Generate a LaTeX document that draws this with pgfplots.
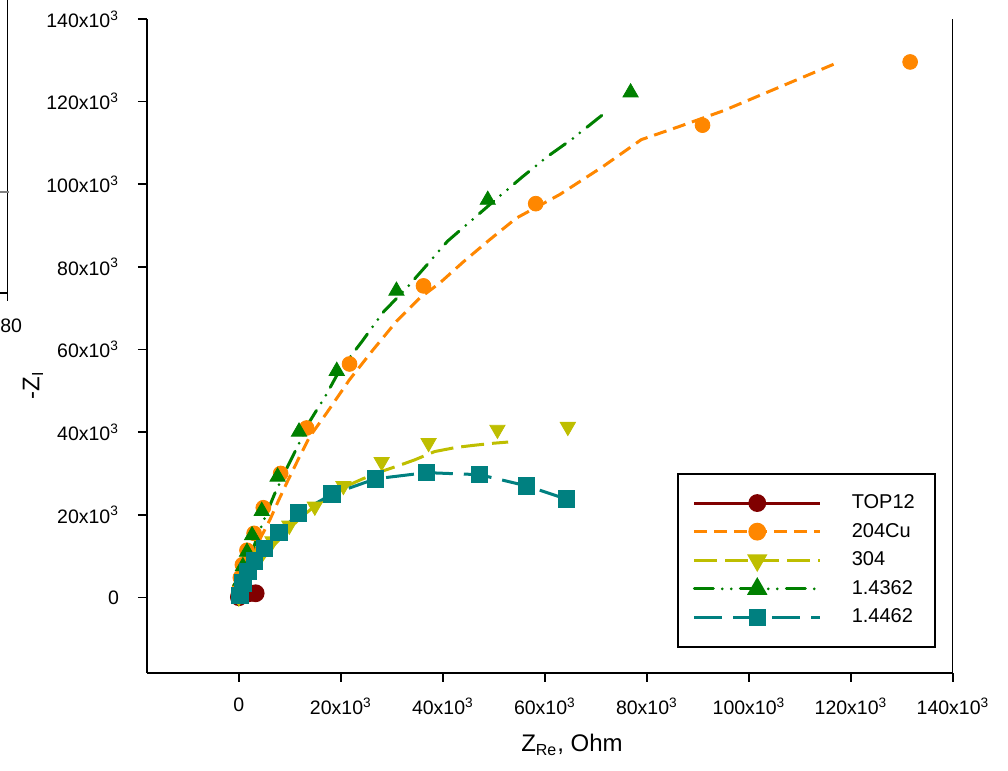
\documentclass[border=0pt]{standalone}
\usepackage{fontspec}
\setmainfont{Liberation Sans}
\usepackage{pgfplots}
\pgfplotsset{compat=1.18}

\definecolor{cTop}{RGB}{128,0,0}
\definecolor{cCu}{RGB}{255,135,0}
\definecolor{cAisi}{RGB}{190,190,0}
\definecolor{cDup}{RGB}{0,128,0}
\definecolor{cLdx}{RGB}{0,128,128}

\pgfplotsset{
  sTop/.style={cTop, line width=1.5pt, solid},
  sCu/.style={cCu, line width=1.5pt, dash pattern=on 6.5pt off 3.5pt},
  sAisi/.style={cAisi, line width=1.5pt, dash pattern=on 11.5pt off 4pt},
  sDup/.style={cDup, line width=1.5pt, line cap=round, dash pattern=on 9.5pt off 4.5pt on 0pt off 4.5pt on 0pt off 4.5pt},
  sLdx/.style={cLdx, line width=1.5pt, dash pattern=on 14pt off 5.5pt},
  mTop/.style={mark=*, mark size=3.7pt, mark options={solid, cTop, fill=cTop}},
  mCu/.style={mark=*, mark size=3.7pt, mark options={solid, cCu, fill=cCu}},
  mAisi/.style={mark=triangle*, mark size=4.4pt, mark options={solid, rotate=180, cAisi, fill=cAisi}},
  mDup/.style={mark=triangle*, mark size=4.4pt, mark options={solid, cDup, fill=cDup}},
  mLdx/.style={mark=square*, mark size=3.6pt, mark options={solid, cLdx, fill=cLdx}},
}

\begin{document}
\begin{tikzpicture}
\path[use as bounding box] (-73.5pt,-49pt) rectangle (430.5pt,336.5pt);

% edge of the neighbouring panel
\draw[line width=0.75pt] (-69.75pt,336.5pt) -- (-69.75pt,186pt);
\draw[line width=0.75pt] (-73.5pt,190pt) -- (-69.75pt,190pt);
\draw[line width=0.9pt, gray] (-73.5pt,240.5pt) -- (-69pt,240.5pt);
\node[anchor=west, inner sep=0pt, font=\fontsize{9.75}{11}\selectfont] at (-73.5pt,173.5pt) {80};

\begin{axis}[
  at={(0,0)}, anchor=south west,
  scale only axis, width=403pt, height=327pt,
  xmin=-18000, xmax=140000, ymin=-18300, ymax=140000,
  axis x line*=bottom, axis y line*=left,
  axis line style={line width=0.75pt},
  tick style={line width=0.75pt, black},
  tick align=outside, major tick length=4.5pt,
  scaled ticks=false,
  xtick={0,20000,40000,60000,80000,100000,120000,140000},
  ytick={0,20000,40000,60000,80000,100000,120000,140000},
  xticklabels={0,20x10\textsuperscript{3},40x10\textsuperscript{3},60x10\textsuperscript{3},80x10\textsuperscript{3},100x10\textsuperscript{3},120x10\textsuperscript{3},140x10\textsuperscript{3}},
  yticklabels={0,20x10\textsuperscript{3},40x10\textsuperscript{3},60x10\textsuperscript{3},80x10\textsuperscript{3},100x10\textsuperscript{3},120x10\textsuperscript{3},140x10\textsuperscript{3}},
  tick label style={font=\fontsize{9.75}{11}\selectfont},
  xticklabel style={yshift=-4.5pt},
  yticklabel style={xshift=-6pt},
  legend cell align=left,
  legend image code/.code={
    \draw[mark repeat=2, mark phase=2, #1] plot coordinates {(0pt,0pt) (31.5pt,0pt) (63pt,0pt)};
  },
  legend style={
    at={(0.6576,0.3058)}, anchor=north west,
    draw=black, line width=0.75pt, fill=white,
    inner xsep=7.5pt, inner ysep=7.5pt, row sep=0pt,
    font=\fontsize{10}{12}\selectfont,
    nodes={inner sep=0pt, minimum height=14.3pt},
    /tikz/every odd column/.append style={column sep=15pt},
  },
]
% legend entries
\addlegendimage{sTop, mTop}
\addlegendentry{\makebox[34pt][l]{TOP12}}
\addlegendimage{sCu, mCu}
\addlegendentry{\makebox[34pt][l]{204Cu}}
\addlegendimage{sAisi, mAisi}
\addlegendentry{\makebox[34pt][l]{304}}
\addlegendimage{sDup, mDup}
\addlegendentry{\makebox[34pt][l]{1.4362}}
\addlegendimage{sLdx, mLdx}
\addlegendentry{\makebox[34pt][l]{1.4462}}

% TOP12
\addplot[sTop, mTop, forget plot] table[x expr=\thisrow{re}*1000, y expr=\thisrow{im}*1000] {
re im
0.02 0.05
0.1 0.2
0.4 0.5
1.0 0.8
2.0 1.0
3.3 1.0
};

% 204Cu: fitted curve and measured points
\addplot[sCu, no markers, forget plot] table[x expr=\thisrow{re}*1000, y expr=\thisrow{im}*1000] {
re im
0 0
0.5 2
1.5 5.5
2.8 9.9
4.3 14.5
6.1 18.8
7.8 23.5
9.7 28.5
11.8 33.8
13.9 38.9
17.2 44.6
21.7 52.7
26.3 59.9
30.9 66.8
35.5 72.5
39.4 76.1
44.0 81.2
49.2 86.6
54.4 91.8
62.9 97.5
71.4 104.3
78.9 110.8
86.4 114.0
95.0 117.8
105.0 123.0
116.9 129.2
};
\addplot[only marks, mCu, forget plot] table[x expr=\thisrow{re}*1000, y expr=\thisrow{im}*1000] {
re im
131.6 129.6
90.9 114.3
58.2 95.3
36.2 75.4
21.7 56.5
13.3 41.0
8.2 30.0
4.8 21.7
3.0 15.5
1.6 11.4
0.7 7.9
0.3 4.8
0.1 2.2
0 0.6
};

% 304: fitted curve and measured points
\addplot[sAisi, no markers, forget plot] table[x expr=\thisrow{re}*1000, y expr=\thisrow{im}*1000] {
re im
0 0
1.0 2.5
2.5 5.5
4.5 9.0
7.0 12.8
9.5 16.0
12.0 19.2
14.8 22.0
17.8 24.4
20.5 26.6
24.3 28.7
27.5 30.3
30.9 31.7
34.5 33.3
38.4 35.3
42.6 36.3
46.0 36.8
49.8 37.3
52.8 37.6
};
\addplot[only marks, mAisi, forget plot] table[x expr=\thisrow{re}*1000, y expr=\thisrow{im}*1000] {
re im
64.5 41.3
50.7 40.6
37.2 37.4
28.0 32.8
20.5 27.0
14.9 22.0
9.9 17.4
6.6 13.6
4.4 10.2
2.7 7.3
1.4 4.6
0.5 2.0
0 0
};

% 1.4362: fitted curve and measured points
\addplot[sDup, no markers, forget plot] table[x expr=\thisrow{re}*1000, y expr=\thisrow{im}*1000] {
re im
0 0
0.3 2
1.0 5
2.0 9
3.3 13.5
5.0 19
7.0 25
9.5 31.5
11.7 37
13.9 42.6
17.2 49.2
19.1 53.5
21.7 58.0
24.3 62.2
28.2 68.9
32.9 74.9
36.4 79.8
40.9 86.2
49.5 95.4
55.6 101.8
60.5 106.7
65.4 111.0
71.9 117.4
};
\addplot[only marks, mDup, forget plot] table[x expr=\thisrow{re}*1000, y expr=\thisrow{im}*1000] {
re im
76.8 122.2
48.8 96.2
30.9 74.2
19.2 54.8
11.8 40.1
7.6 29.2
4.5 20.9
2.6 15.0
1.6 11.0
0.8 7.5
0.3 4.0
0 1.0
};

% 1.4462
\addplot[sLdx, mLdx, forget plot] table[x expr=\thisrow{re}*1000, y expr=\thisrow{im}*1000] {
re im
64.2 23.8
56.4 27.0
47.2 29.7
36.8 30.2
26.8 28.7
18.3 25.0
11.7 20.4
7.9 15.7
5.0 11.9
3.1 8.8
1.8 6.2
0.8 3.5
0.2 0.5
};

% right frame line
\draw[line width=0.75pt] (rel axis cs:1,0) -- (rel axis cs:1,1);
\end{axis}

\node[font=\fontsize{12}{14}\selectfont] at (212.5pt,-36pt) {Z\textsubscript{Re}, Ohm};
\node[rotate=90, font=\fontsize{12}{14}\selectfont] at (-57pt,144pt) {-Z\textsubscript{I}};
\end{tikzpicture}
\end{document}
